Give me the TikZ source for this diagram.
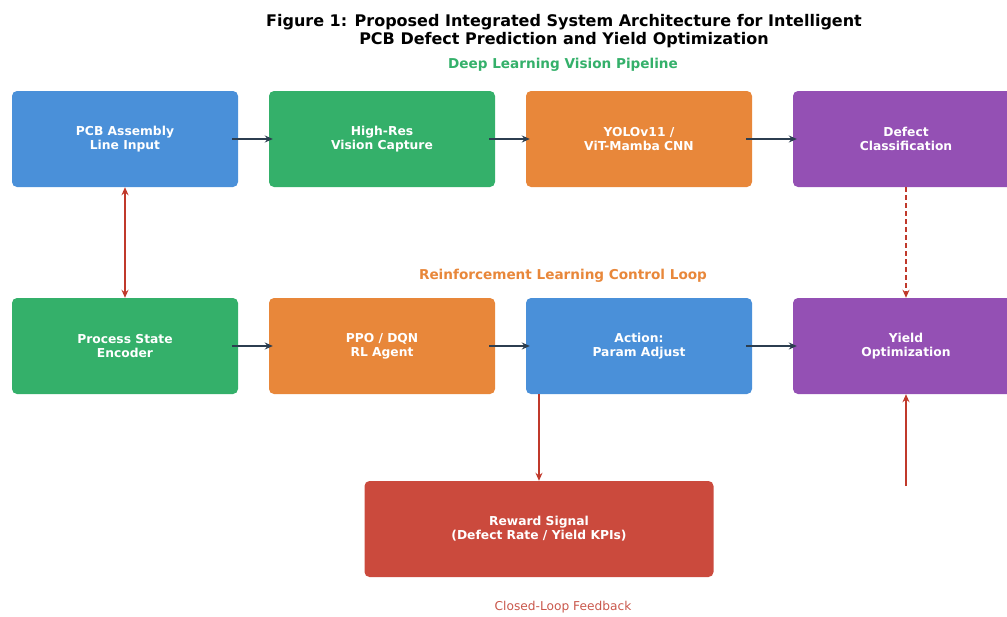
\documentclass[tikz,border=0pt]{standalone}
\usepackage{fontspec}
\setmainfont{DejaVu Sans}
\usetikzlibrary{arrows.meta}
\definecolor{cblue}{HTML}{4A90D9}
\definecolor{cgreen}{HTML}{34B06A}
\definecolor{corange}{HTML}{E8873A}
\definecolor{cpurple}{HTML}{9450B4}
\definecolor{cred}{HTML}{CB4A3D}
\definecolor{cline}{HTML}{C0392B}
\definecolor{cdark}{HTML}{2C3E50}
\tikzset{
  box/.style={rounded corners=5pt, minimum width=226pt, minimum height=96pt, text=white, align=center, inner sep=0pt,
    font=\fontsize{12.3}{14}\selectfont\bfseries},
  flow/.style={draw=cdark, line width=2pt, -{Stealth[length=8pt,width=7pt]}, shorten <=-6pt, shorten >=-4pt},
  fb/.style={draw=cline, line width=1.8pt, -{Stealth[length=8pt,width=7pt]}},
  hdr/.style={font=\fontsize{13.6}{16}\selectfont\bfseries}
}
\begin{document}
\begin{tikzpicture}[x=1pt,y=-1pt]
\useasboundingbox (0,0) rectangle (1007,616);
\clip (0,0) rectangle (1007,616);
\node[align=center, font=\fontsize{16}{18}\selectfont\bfseries] (title) at (564,31)
  {Figure 1: Proposed Integrated System Architecture for Intelligent\\PCB Defect Prediction and Yield Optimization};
\node[hdr, text=cgreen] (h1) at (563,65) {Deep Learning Vision Pipeline};
\node[hdr, text=corange] (h2) at (563,276) {Reinforcement Learning Control Loop};
\node[font=\fontsize{12.2}{14}\selectfont, text=cline!85] (h3) at (563,607) {Closed-Loop Feedback};

\node[box, fill=cblue] (b1) at (125,139) {PCB Assembly\\Line Input};
\node[box, fill=cgreen] (b2) at (382,139) {High-Res\\Vision Capture};
\node[box, fill=corange] (b3) at (639,139) {YOLOv11 /\\ViT-Mamba CNN};
\node[box, fill=cpurple] (b4) at (906,139) {Defect\\Classification};

\node[box, fill=cgreen] (c1) at (125,346) {Process State\\Encoder};
\node[box, fill=corange] (c2) at (382,346) {PPO / DQN\\RL Agent};
\node[box, fill=cblue] (c3) at (639,346) {Action:\\Param Adjust};
\node[box, fill=cpurple] (c4) at (906,346) {Yield\\Optimization};

\node[box, fill=cred, minimum width=349pt] (r) at (539,529) {Reward Signal\\(Defect Rate / Yield KPIs)};

\draw[flow] (b1) -- (b2);
\draw[flow] (b2) -- (b3);
\draw[flow] (b3) -- (b4);
\draw[flow] (c1) -- (c2);
\draw[flow] (c2) -- (c3);
\draw[flow] (c3) -- (c4);

\draw[fb, {Stealth[length=8pt,width=7pt]}-{Stealth[length=8pt,width=7pt]}] (b1.south) -- (c1.north);
\draw[fb, dash pattern=on 5pt off 3pt] (b4.south) -- (c4.north);
\draw[fb] (c3.south -| r.north) -- (r.north);
\coordinate (fe) at (906,486);
\draw[fb] (fe) -- (c4.south);
\end{tikzpicture}
\end{document}
